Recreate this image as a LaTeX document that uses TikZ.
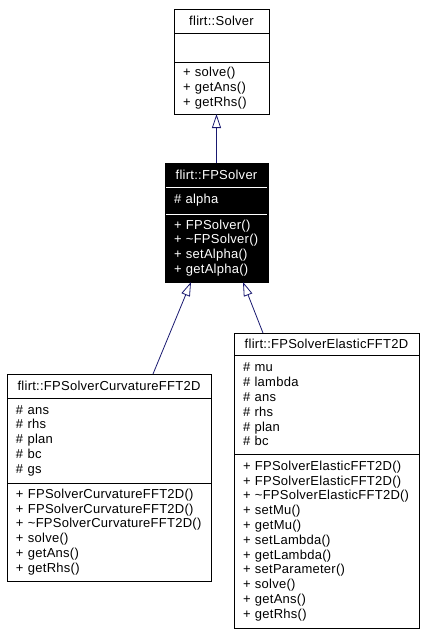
\documentclass[tikz,border=0pt]{standalone}
\usepackage{fontspec}
\setmainfont{Liberation Sans}[LetterSpace=2]
\usetikzlibrary{arrows.meta}
\definecolor{edgeblue}{HTML}{191970}
\newcommand{\umlfont}{\fontsize{13}{14.8}\selectfont}
\begin{document}
\begin{tikzpicture}[x=1pt,y=-1pt,
  box/.style={rectangle, draw=black, line width=0.9pt, fill=white,
    inner xsep=9pt, inner ysep=0pt, outer sep=0pt, anchor=north west,
    font=\umlfont, text width=#1},
  ttl/.style={align=center},
  lst/.style={align=left},
  dark/.style={fill=black, text=white},
  inh/.style={draw=edgeblue, line width=0.8pt,
    -{Triangle[open, length=14pt, width=9pt]}}]
\useasboundingbox (0,0) rectangle (425,633);

% flirt::Solver
\node[box=77pt, ttl, minimum height=24pt] (s_t) at (174,9) {flirt::Solver};
\node[box=77pt, minimum height=29pt] (s_a) at (s_t.south west) {};
\node[box=77pt, lst, minimum height=52pt] (s_m) at (s_a.south west)
  {+ solve()\\+ getAns()\\+ getRhs()};

% flirt::FPSolver
\node[box=85pt, ttl, dark, minimum height=24pt] (f_t) at (165,163) {flirt::FPSolver};
\node[box=85pt, lst, dark, minimum height=27pt] (f_a) at (f_t.south west) {\# alpha};
\node[box=85pt, lst, dark, minimum height=68pt] (f_m) at (f_a.south west)
  {+ FPSolver()\\+ \textasciitilde FPSolver()\\+ setAlpha()\\+ getAlpha()};
\draw[white, line width=0.9pt] ([xshift=1pt]f_t.south west) -- ([xshift=-1pt]f_t.south east);
\draw[white, line width=0.9pt] ([xshift=1pt]f_a.south west) -- ([xshift=-1pt]f_a.south east);

% flirt::FPSolverCurvatureFFT2D
\node[box=186pt, ttl, minimum height=24pt] (l_t) at (7,374) {flirt::FPSolverCurvatureFFT2D};
\node[box=186pt, lst, minimum height=85pt] (l_a) at (l_t.south west)
  {\# ans\\\# rhs\\\# plan\\\# bc\\\# gs};
\node[box=186pt, lst, minimum height=98pt] (l_m) at (l_a.south west)
  {+ FPSolverCurvatureFFT2D()\\+ FPSolverCurvatureFFT2D()\\+ \textasciitilde FPSolverCurvatureFFT2D()\\+ solve()\\+ getAns()\\+ getRhs()};

% flirt::FPSolverElasticFFT2D
\node[box=167pt, ttl, minimum height=22pt] (r_t) at (234,333) {flirt::FPSolverElasticFFT2D};
\node[box=167pt, lst, minimum height=99pt] (r_a) at (r_t.south west)
  {\# mu\\\# lambda\\\# ans\\\# rhs\\\# plan\\\# bc};
\node[box=167pt, lst, minimum height=174pt] (r_m) at (r_a.south west)
  {+ FPSolverElasticFFT2D()\\+ FPSolverElasticFFT2D()\\+ \textasciitilde FPSolverElasticFFT2D()\\+ setMu()\\+ getMu()\\+ setLambda()\\+ getLambda()\\+ setParameter()\\+ solve()\\+ getAns()\\+ getRhs()};

% inheritance
\draw[inh] (f_t.north) -- (f_t.north |- s_m.south);
\draw[inh] ([xshift=146pt]l_t.north west) -- ([xshift=26pt]f_m.south west);
\draw[inh] ([xshift=29pt]r_t.north west) -- ([xshift=78pt]f_m.south west);
\end{tikzpicture}
\end{document}
